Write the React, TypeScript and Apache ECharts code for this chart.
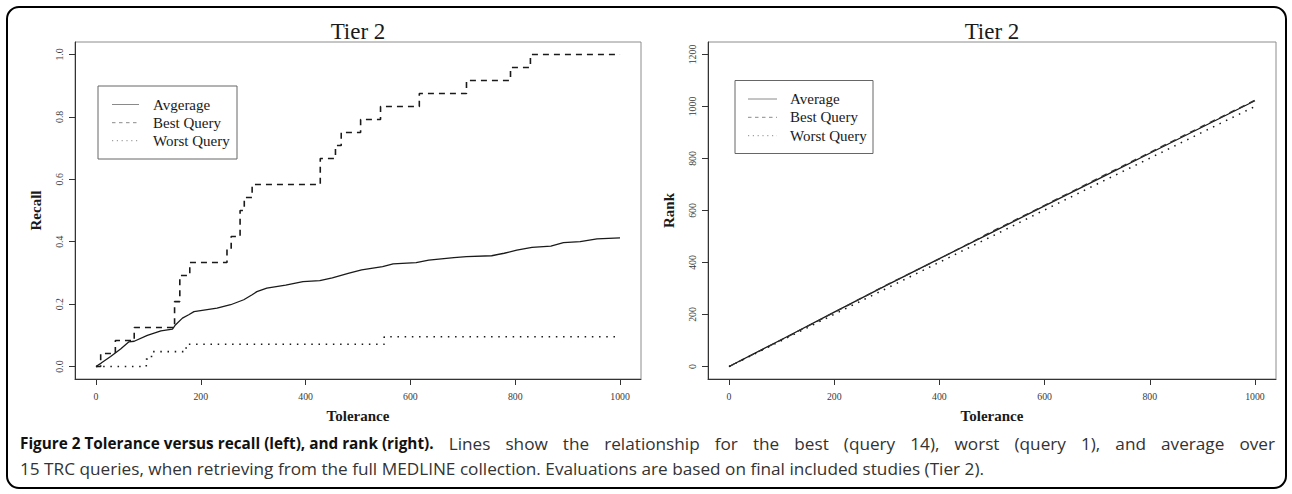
import React, { useEffect, useRef } from "react";
import * as echarts from "echarts";

// ---------- data ----------
const panelTitle = "Tier 2";
const xAxisName = "Tolerance";
const leftYName = "Recall";
const rightYName = "Rank";

const toleranceTicks = [0, 200, 400, 600, 800, 1000];
const recallTicks = [0, 0.2, 0.4, 0.6, 0.8, 1.0];
const rankTicks = [0, 200, 400, 600, 800, 1000, 1200];

// Recall vs tolerance: [tolerance, recall]
const recallAverage = [
  [0, 0], [10, 0.011], [28, 0.032], [47, 0.056], [63, 0.079], [73, 0.081],
  [98, 0.1], [124, 0.114], [146, 0.12], [152, 0.134], [165, 0.155], [177, 0.166],
  [187, 0.176], [231, 0.187], [257, 0.198], [282, 0.214], [298, 0.23], [307, 0.24],
  [326, 0.251], [362, 0.261], [395, 0.272], [427, 0.275], [451, 0.284], [483, 0.299],
  [507, 0.31], [547, 0.32], [567, 0.329], [611, 0.333], [635, 0.341], [683, 0.349],
  [707, 0.352], [755, 0.355], [779, 0.363], [803, 0.373], [832, 0.382], [868, 0.386],
  [892, 0.397], [924, 0.4], [956, 0.409], [1000, 0.412],
];
const recallBest = [
  [0, 0], [9, 0.0417], [37, 0.0833], [73, 0.125], [150, 0.208], [160, 0.2917],
  [179, 0.3333], [250, 0.375], [258, 0.4167], [275, 0.5], [283, 0.5417], [298, 0.5833],
  [428, 0.6667], [457, 0.7083], [468, 0.75], [505, 0.7917], [543, 0.8333], [617, 0.875],
  [707, 0.9167], [791, 0.9583], [829, 1.0], [1000, 1.0],
];
const recallWorst = [
  [0, 0], [96, 0.0238], [106, 0.0476], [172, 0.0714], [550, 0.0952], [995, 0.0952],
];

// Rank vs tolerance
const rankTolerance = [0, 100, 200, 300, 400, 500, 600, 700, 800, 900, 1000];
const rankAverage = [0, 104, 209, 313, 415, 516, 618, 719, 820, 921, 1022];
const rankBest = [0, 103, 208, 314, 414, 519, 620, 722, 823, 924, 1024];
const rankWorst = [0, 100, 201, 301, 401, 501, 602, 702, 801, 901, 1000];

const leftLegendLabels = ["Avgerage", "Best Query", "Worst Query"];
const rightLegendLabels = ["Average", "Best Query", "Worst Query"];

const captionBold = "Figure 2 Tolerance versus recall (left), and rank (right).";
const captionRest1 =
  "Lines show the relationship for the best (query 14), worst (query 1), and average over";
const captionLine2 =
  "15 TRC queries, when retrieving from the full MEDLINE collection. Evaluations are based on final included studies (Tier 2).";

// ---------- styles ----------
const SERIF = "'Liberation Serif', 'DejaVu Serif', serif";
const SANS_NAME = "Open Sans";
const SANS = "'Open Sans', 'Noto Sans', sans-serif";
const INK = "#1a1a1a";
const DASH = [6, 5];
const DOT = [1.5, 5.7];

function xAxis(gridIndex: number) {
  return {
    type: "value",
    gridIndex,
    min: -40,
    max: 1040,
    name: xAxisName,
    nameLocation: "middle",
    nameGap: 29,
    nameTextStyle: { fontFamily: SERIF, fontWeight: "bold", fontSize: 15, color: INK },
    axisLine: { show: true, onZero: false, lineStyle: { color: "#333", width: 1 } },
    axisTick: { show: true, length: 6, customValues: toleranceTicks, lineStyle: { color: "#333" } },
    axisLabel: {
      customValues: toleranceTicks,
      margin: 12,
      fontFamily: SERIF,
      fontSize: 9.8,
      color: "#3a3a3a",
      formatter: (v: number) => String(v),
    },
    splitLine: { show: false },
  };
}

function yAxis(gridIndex: number, name: string, min: number, max: number, ticks: number[], fmt: (v: number) => string) {
  return {
    type: "value",
    gridIndex,
    min,
    max,
    name,
    nameLocation: "middle",
    nameGap: 32,
    nameRotate: 90,
    nameTextStyle: { fontFamily: SERIF, fontWeight: "bold", fontSize: 15, color: INK },
    axisLine: { show: true, onZero: false, lineStyle: { color: "#333", width: 1 } },
    axisTick: { show: true, length: 6, customValues: ticks, lineStyle: { color: "#333" } },
    axisLabel: {
      customValues: ticks,
      rotate: 90,
      margin: 11,
      fontFamily: SERIF,
      fontSize: 9.8,
      color: "#3a3a3a",
      formatter: fmt,
    },
    splitLine: { show: false },
  };
}

function legendGraphics(labels: string[], box: { x: number; y: number; w: number; h: number }, rows: number[], lineX0: number, lineX1: number, textX: number) {
  const els: any[] = [
    {
      type: "rect",
      shape: { x: box.x, y: box.y, width: box.w, height: box.h },
      style: { fill: "#fff", stroke: "#666", lineWidth: 1 },
      z: 10,
    },
  ];
  const dashes = [null, [3.5, 3.5], [1.2, 3.6]];
  labels.forEach((lab, i) => {
    els.push({
      type: "line",
      shape: { x1: lineX0, y1: rows[i], x2: lineX1, y2: rows[i] },
      style: { stroke: "#8a8a8a", lineWidth: 1, lineDash: dashes[i] || undefined },
      z: 11,
    });
    els.push({
      type: "text",
      x: textX,
      y: rows[i],
      style: {
        text: lab,
        fontFamily: SERIF,
        fontSize: 15,
        fill: INK,
        textAlign: "left",
        textVerticalAlign: "middle",
      },
      z: 11,
    });
  });
  return els;
}

// Caption layout: line 1 justified between x0 and x1, line 2 natural.
function captionGraphics() {
  const canvas = document.createElement("canvas");
  const ctx = canvas.getContext("2d") as CanvasRenderingContext2D;
  const measure = (font: string, t: string) => {
    ctx.font = font;
    return ctx.measureText(t).width;
  };
  const x0 = 20;
  const x1 = 1275;
  const y1 = 443;
  const y2 = 468;
  const line2Target = 965;
  const boldTarget = 414;
  const normalSize = Math.min(18, 17 * line2Target / measure(`17px '${SANS_NAME}'`, captionLine2));
  const boldSize = Math.min(normalSize, 16 * boldTarget / measure(`bold 16px '${SANS_NAME}'`, captionBold));
  const boldFont = `bold ${boldSize}px '${SANS_NAME}'`;
  const normFont = `${normalSize}px '${SANS_NAME}'`;

  const boldWords = captionBold.split(" ");
  const normWords = captionRest1.split(" ");
  const boldSpace = measure(boldFont, " ");
  const boldW = boldWords.reduce((s, w) => s + measure(boldFont, w), 0) + boldSpace * (boldWords.length - 1);
  const normWordsW = normWords.reduce((s, w) => s + measure(normFont, w), 0);
  const gaps = normWords.length; // includes the gap after the bold part
  const gap = (x1 - x0 - boldW - normWordsW) / gaps;

  const els: any[] = [];
  let x = x0;
  els.push({
    type: "text",
    x,
    y: y1,
    style: {
      text: captionBold,
      fontFamily: SANS,
      fontWeight: "bold",
      fontSize: boldSize,
      fill: "#111",
      textVerticalAlign: "middle",
    },
  });
  x += boldW + gap;
  normWords.forEach((w) => {
    els.push({
      type: "text",
      x,
      y: y1,
      style: { text: w, fontFamily: SANS, fontSize: normalSize, fill: "#333", textVerticalAlign: "middle" },
    });
    x += measure(normFont, w) + gap;
  });
  els.push({
    type: "text",
    x: x0,
    y: y2,
    style: { text: captionLine2, fontFamily: SANS, fontSize: normalSize, fill: "#333", textVerticalAlign: "middle" },
  });
  return els;
}

export default function App() {
  const ref = useRef<HTMLDivElement>(null);

  useEffect(() => {
    if (!ref.current) return;
    const chart = echarts.init(ref.current, null, { renderer: "svg" });

    const pair = (xs: number[], ys: number[]) => xs.map((x, i) => [x, ys[i]]);

    const option: any = {
      animation: false,
      backgroundColor: "#ffffff",
      grid: [
        { left: 75, top: 42, width: 566, height: 337, show: true, borderColor: "#8c8c8c", borderWidth: 1 },
        { left: 708, top: 42, width: 568, height: 337, show: true, borderColor: "#8c8c8c", borderWidth: 1 },
      ],
      xAxis: [xAxis(0), xAxis(1)],
      yAxis: [
        yAxis(0, leftYName, -0.04, 1.04, recallTicks, (v: number) => v.toFixed(1)),
        yAxis(1, rightYName, -48, 1248, rankTicks, (v: number) => String(v)),
      ],
      series: [
        {
          name: "Average", type: "line", xAxisIndex: 0, yAxisIndex: 0, data: recallAverage,
          symbol: "none", lineStyle: { color: INK, width: 1.3 },
        },
        {
          name: "Best Query", type: "line", xAxisIndex: 0, yAxisIndex: 0, data: recallBest, step: "end",
          symbol: "none", lineStyle: { color: INK, width: 1.6, type: DASH },
        },
        {
          name: "Worst Query", type: "line", xAxisIndex: 0, yAxisIndex: 0, data: recallWorst, step: "end",
          symbol: "none", lineStyle: { color: INK, width: 1.6, type: DOT },
        },
        {
          name: "Average R", type: "line", xAxisIndex: 1, yAxisIndex: 1, data: pair(rankTolerance, rankAverage),
          symbol: "none", lineStyle: { color: INK, width: 1.3 },
        },
        {
          name: "Best Query R", type: "line", xAxisIndex: 1, yAxisIndex: 1, data: pair(rankTolerance, rankBest),
          symbol: "none", lineStyle: { color: "#333", width: 1.4, type: DASH },
        },
        {
          name: "Worst Query R", type: "line", xAxisIndex: 1, yAxisIndex: 1, data: pair(rankTolerance, rankWorst),
          symbol: "none", lineStyle: { color: INK, width: 1.5, type: DOT },
        },
      ],
      graphic: [
        {
          type: "rect",
          shape: { x: 7, y: 7, width: 1279, height: 481, r: 12 },
          style: { fill: "none", stroke: "#000", lineWidth: 2 },
          z: 0,
        },
        {
          type: "text",
          x: 358,
          y: 31,
          style: { text: panelTitle, fontFamily: SERIF, fontSize: 23, fill: INK, textAlign: "center", textVerticalAlign: "middle" },
        },
        {
          type: "text",
          x: 992,
          y: 31,
          style: { text: panelTitle, fontFamily: SERIF, fontSize: 23, fill: INK, textAlign: "center", textVerticalAlign: "middle" },
        },
        ...legendGraphics(leftLegendLabels, { x: 98, y: 86, w: 139, h: 73 }, [104.5, 122.7, 140.7], 112, 139, 153),
        ...legendGraphics(rightLegendLabels, { x: 735, y: 80.5, w: 138, h: 73 }, [99, 117.3, 135.7], 748, 777, 790),
        ...captionGraphics(),
      ],
    };

    chart.setOption(option);
    return () => chart.dispose();
  }, []);

  return (
    <div
      ref={ref}
      style={{ position: "absolute", left: 0, top: 0, width: 1292, height: 494 }}
    />
  );
}
